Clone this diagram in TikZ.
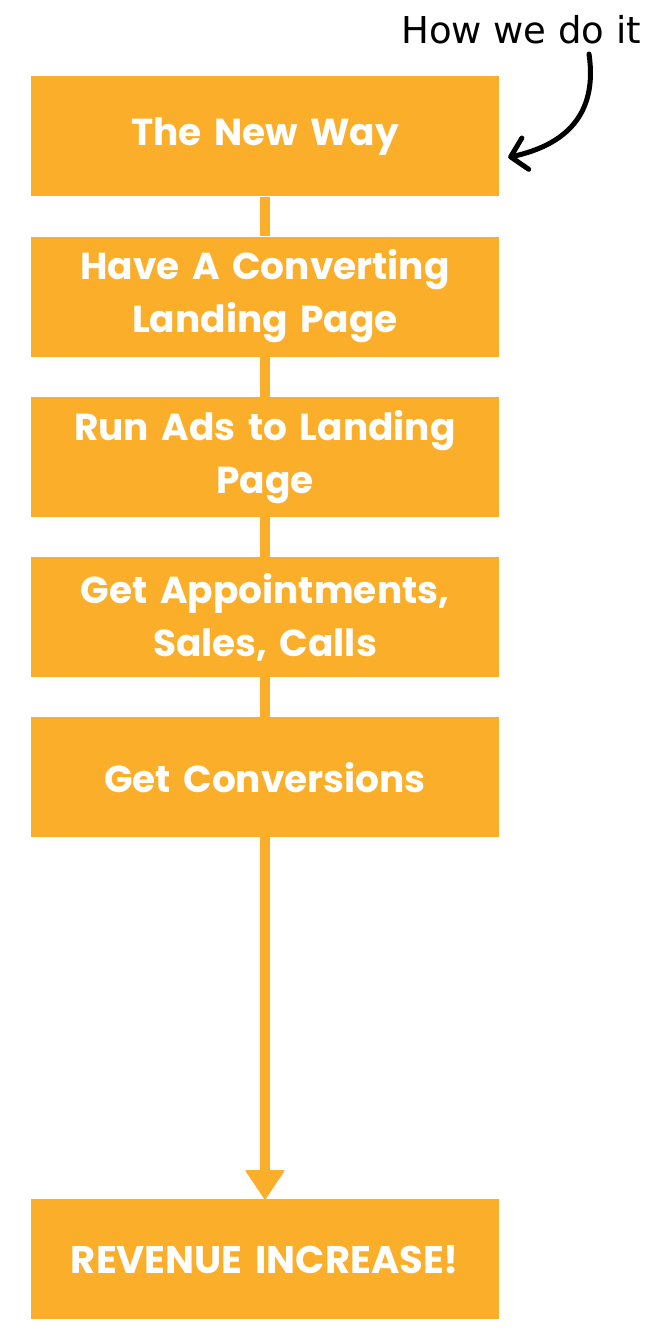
\documentclass[tikz,border=0pt]{standalone}
\usepackage{fontspec}
\setmainfont{Poppins}
\newfontfamily\handfont{DejaVu Sans}
\usetikzlibrary{arrows.meta,matrix}
\definecolor{boxorange}{HTML}{FBAE2A}

\begin{document}
\begin{tikzpicture}
	[x=1pt,y=-1pt,
		block/.style	={rectangle, fill=boxorange, text=white,
									minimum width=468pt, minimum height=120pt,
									text width=450pt, align=center, inner sep=0pt,
									font=\bfseries\fontsize{37.5}{53}\selectfont},
		link/.style		={draw=boxorange, line width=10pt},
		note/.style		={font=\handfont\fontsize{37}{37}\selectfont, inner sep=0pt}
	]
\useasboundingbox (0,0) rectangle (670,1340);
\matrix (steps) [row sep=40pt, inner sep=0pt, anchor=north] at (265,76)
	{
		% row 1
			\node [block] (new way)			{The New Way}; \\
		% row 2
			\node [block] (landing)			{Have A Converting\\Landing Page}; \\
		% row 3
			\node [block] (ads)					{Run Ads to Landing\\Page}; \\
		% row 4
			\node [block] (appointments)	{Get Appointments,\\Sales, Calls}; \\
		% row 5
			\node [block] (conversions)		{Get Conversions}; \\[322pt]
		% row 6
			\node [block, font=\bfseries\fontsize{38.5}{53}\selectfont] (revenue)
																	{REVENUE INCREASE!}; \\
	};
\begin{scope}[every path/.style=link]
	\path					(new way)			-- (landing);
	\path					(landing)			-- (ads);
	\path					(ads)					-- (appointments);
	\path					(appointments)	-- (conversions);
	\path [-{Triangle[width=40pt,length=30pt,round,line width=2pt]}]
								(conversions)	-- (revenue);
\end{scope}

% hand written note
\node [note, anchor=base west] (how) at (401,44) {How we do it};
\coordinate (curl) at (589,54);
\draw [line width=5pt, line cap=round,
			-{Straight Barb[length=15pt,width=32pt,line cap=round,line join=round]}]
	(curl) .. controls (598,115) and (565,145) .. ([shift={(9pt,-21pt)}]new way.east);
\end{tikzpicture}
\end{document}
